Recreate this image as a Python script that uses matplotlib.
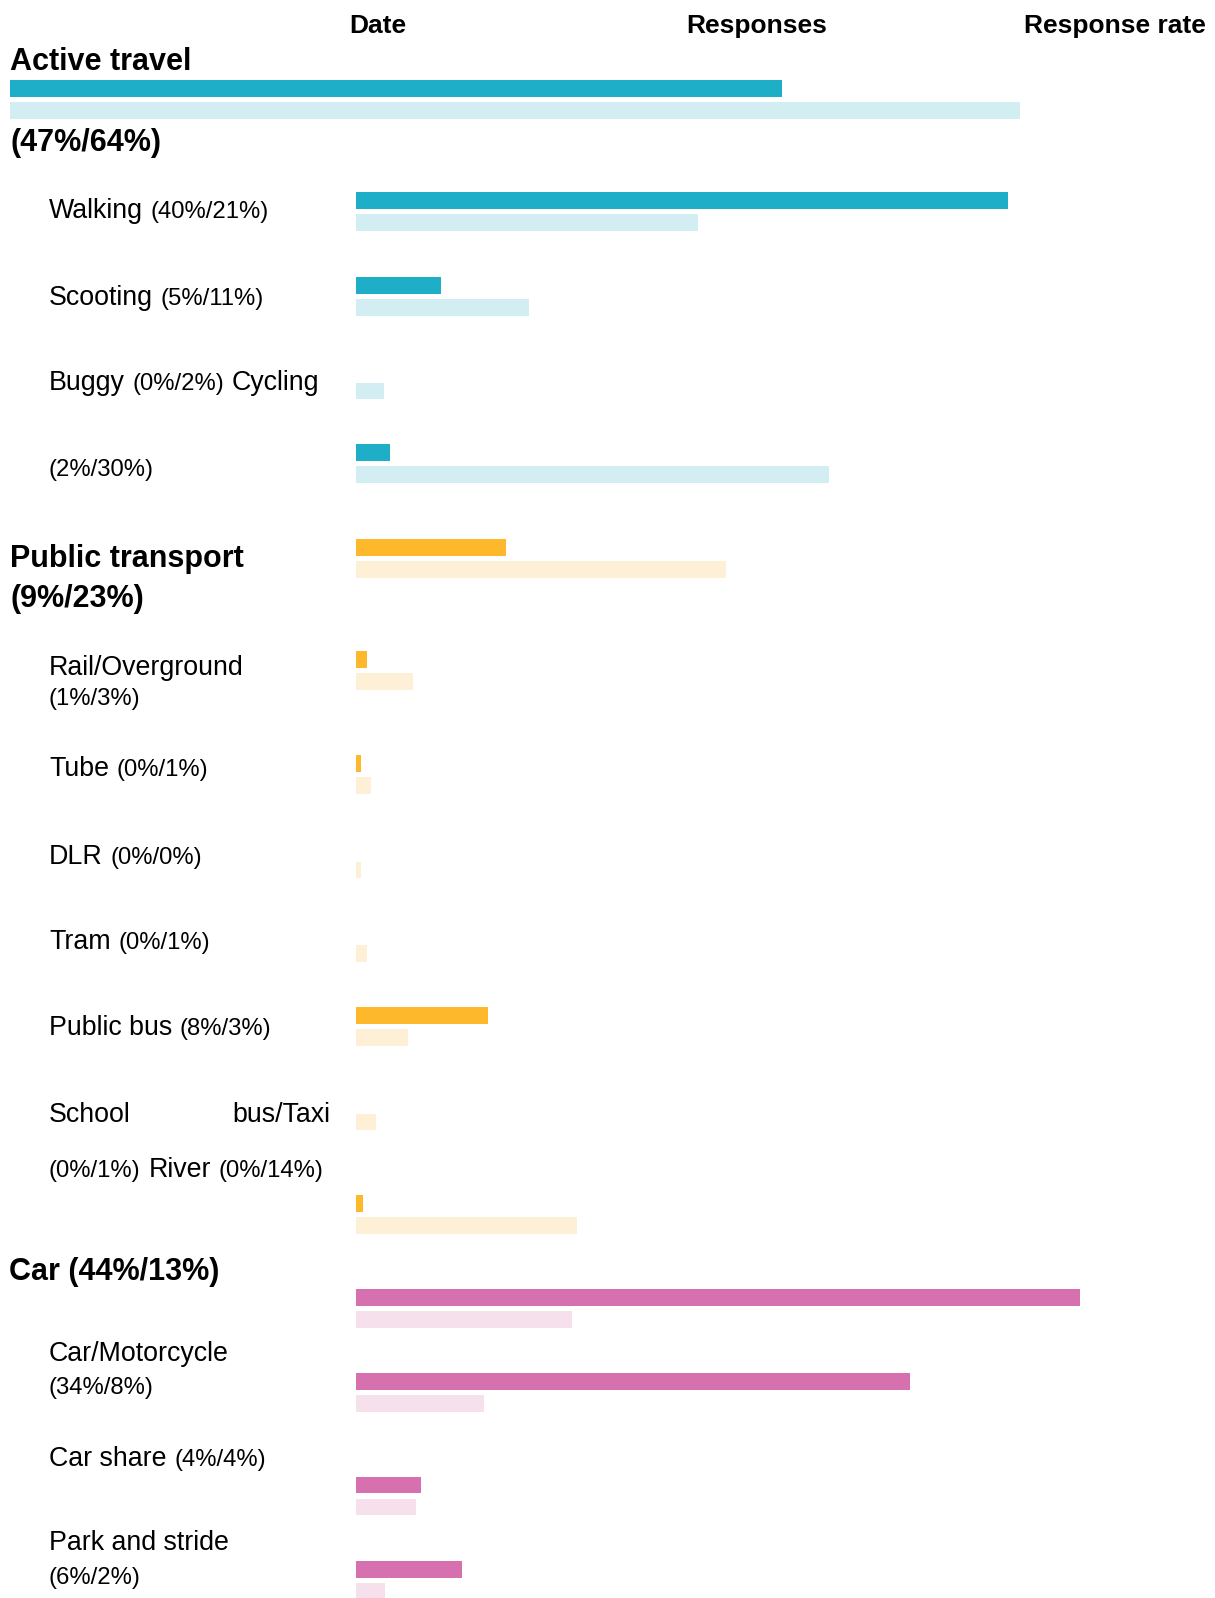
import numpy as np
import matplotlib.pyplot as plt

plt.rcParams['font.family'] = ['Liberation Sans', 'DejaVu Sans']

W, H = 1215, 1598          # figure size in pixels
PX_PER_PCT = 16.35         # bar length scale, pixels per percent

# ---- data (first / second share, in %) ----
at_first = 47.2
at_second = 61.8

rows = ['Walking', 'Scooting', 'Buggy', 'Cycling',
        'Public transport', 'Rail/Overground', 'Tube', 'DLR', 'Tram',
        'Public bus', 'School bus/Taxi', 'River',
        'Car', 'Car/Motorcycle', 'Car share', 'Park and stride']
first = [39.9, 5.2, 0, 2.1,
         9.2, 0.7, 0.3, 0, 0, 8.1, 0, 0.45,
         44.3, 33.9, 4.0, 6.5]
second = [20.9, 10.6, 1.7, 28.9,
          22.6, 3.5, 0.9, 0.3, 0.7, 3.2, 1.2, 13.5,
          13.2, 7.8, 3.7, 1.8]
row_group = ['active'] * 4 + ['public'] * 8 + ['car'] * 4

# ---- layout / style ----
palette = {'active': ('#1FAEC7', '#D2EEF2'),
           'public': ('#FDB92B', '#FEF0D6'),
           'car': ('#D670AF', '#F5E0EC')}
at_y = 88.7
row_y = np.array([200.8, 285.4, 369, 452.6,
                  547.4, 659.5, 763.5, 848, 931.6, 1015.2, 1100, 1203.8,
                  1297.6, 1381.2, 1485.1, 1569.7])
bar_h = 16.7
gap = 22

NAME = 19.3     # mode names
PAREN = 17.2    # (x%/y%) parts
GROUP = 22      # bold group headers
HEAD = 19       # column headers

fig = plt.figure(figsize=(W / 100, H / 100), dpi=100)

ax_at = fig.add_axes([10 / W, 0, 1 - 10 / W, 1])
ax_at.set_xlim(0, (W - 10) / PX_PER_PCT)
ax_at.set_ylim(H, 0)
ax_at.axis('off')

ax = fig.add_axes([356 / W, 0, 1 - 356 / W, 1])
ax.set_xlim(0, (W - 356) / PX_PER_PCT)
ax.set_ylim(H, 0)
ax.axis('off')

ax_at.barh([at_y], [at_first], height=bar_h, color=palette['active'][0])
ax_at.barh([at_y + gap], [at_second], height=bar_h, color=palette['active'][1])

dark = [palette[g][0] for g in row_group]
light = [palette[g][1] for g in row_group]
ax.barh(row_y, first, height=bar_h, color=dark)
ax.barh(row_y + gap, second, height=bar_h, color=light)


def label(x, y, s, size=NAME, weight='normal', **kw):
    return fig.text(x / W, 1 - y / H, s, fontsize=size, fontweight=weight,
                    va='baseline', color='black', **kw)


def after(t, s, y, size=PAREN, weight='normal', pad=5.5):
    return ax_at.annotate(s, xy=(1, 1 - y / H), xycoords=(t, 'figure fraction'),
                          xytext=(pad, 0), textcoords='offset points',
                          fontsize=size, fontweight=weight, va='baseline',
                          color='black')


# column headers
label(378, 33.3, 'Date', HEAD, 'bold', ha='center')
label(757, 33.3, 'Responses', HEAD, 'bold', ha='center')
label(1024, 33.3, 'Response rate', HEAD, 'bold')

# group headers
label(10, 70, 'Active travel', GROUP, 'bold')
label(10, 150.7, '(47%/64%)', GROUP, 'bold')
label(10, 566.7, 'Public transport', GROUP, 'bold')
label(10, 607.3, '(9%/23%)', GROUP, 'bold')
label(9, 1280, 'Car (44%/13%)', GROUP, 'bold')

# mode labels
t = label(49, 218.3, 'Walking')
after(t, '(40%/21%)', 218.3)
t = label(49, 305, 'Scooting')
after(t, '(5%/11%)', 305)
t = label(49, 390, 'Buggy')
t = after(t, '(0%/2%)', 390)
after(t, 'Cycling', 390, size=NAME)
label(49, 476, '(2%/30%)', PAREN)

label(49, 675, 'Rail/Overground')
label(49, 705, '(1%/3%)', PAREN)
t = label(49, 776, 'Tube')
after(t, '(0%/1%)', 776)
t = label(49, 864, 'DLR')
after(t, '(0%/0%)', 864)
t = label(49, 949.3, 'Tram')
after(t, '(0%/1%)', 949.3)
t = label(49, 1035, 'Public bus')
after(t, '(8%/3%)', 1035)
label(49, 1121.5, 'School')
label(232, 1121.5, 'bus/Taxi')
t = label(49, 1176.7, '(0%/1%)', PAREN)
t = after(t, 'River', 1176.7, size=NAME)
after(t, '(0%/14%)', 1176.7)

label(49, 1360.7, 'Car/Motorcycle')
label(49, 1394, '(34%/8%)', PAREN)
t = label(49, 1466, 'Car share')
after(t, '(4%/4%)', 1466)
label(49, 1550, 'Park and stride')
label(49, 1584, '(6%/2%)', PAREN)

fig.savefig('out.png', dpi=100)
